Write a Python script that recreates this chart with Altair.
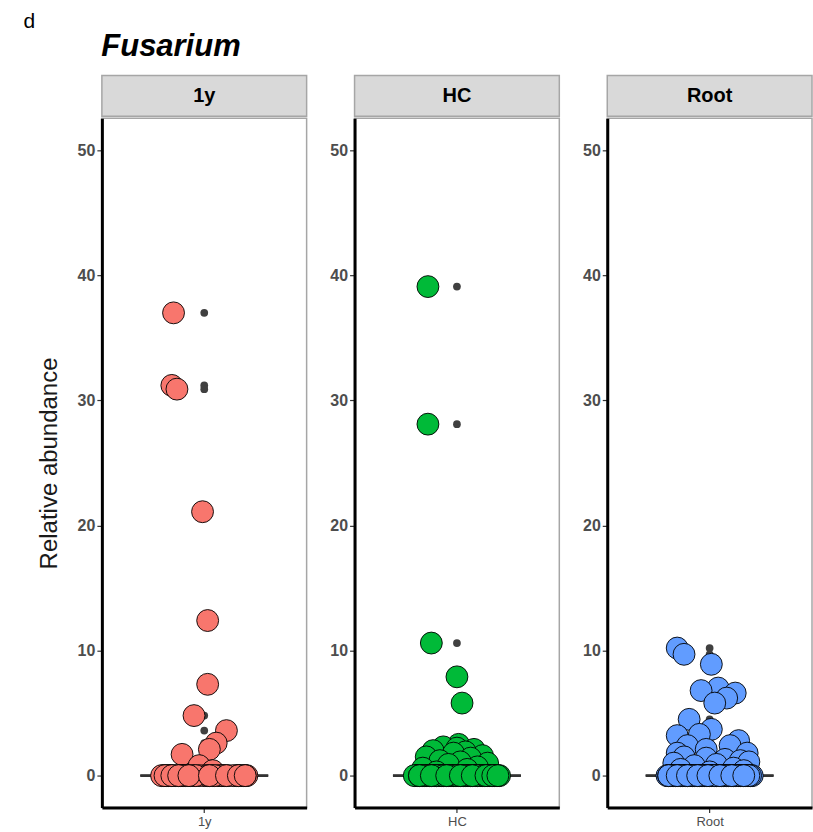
import altair as alt
import pandas as pd

groups = ["1y", "HC", "Root"]
fill_colors = ["#F8766D", "#00BA38", "#619CFF"]
y_ticks = [0, 10, 20, 30, 40, 50]

# ---- 1y ----
y1_values = [37.0, 31.2, 30.9, 21.1, 12.4, 7.3, 4.8, 3.6, 2.6, 2.1, 1.7, 0.8, 0.4]
y1_jitter = [-0.18, -0.19, -0.16, -0.01, 0.02, 0.02, -0.06, 0.13, 0.07, 0.03, -0.13, -0.03, 0.05]
y1_zero_jitter = [-0.24, -0.2, -0.15, -0.1, -0.06, 0.0, 0.05, 0.1, 0.14, 0.19, 0.23, 0.25,
                  -0.22, -0.17, -0.12, -0.08, -0.03, 0.02, 0.08, 0.12, 0.17, 0.21, -0.25,
                  -0.19, -0.13, -0.05, 0.03, 0.11, 0.2, 0.24, -0.21, -0.14, -0.11, 0.06,
                  -0.23, -0.19, -0.15, -0.09, 0.03, 0.13, 0.2, 0.24]

# ---- HC ----
hc_values = [39.1, 28.1, 10.6, 7.9, 5.8, 2.5, 2.3, 2.2, 2.1, 2.0, 1.9, 1.8, 1.6, 1.5, 1.4,
             1.2, 1.1, 1.0, 0.9, 0.7, 0.6, 0.5, 0.3]
hc_jitter = [-0.17, -0.17, -0.15, 0.0, 0.03, 0.01, -0.08, 0.0, 0.1, -0.14, 0.05, -0.02, 0.15,
             -0.18, 0.08, -0.1, 0.02, 0.18, -0.05, 0.12, -0.2, 0.06, -0.12]
hc_zero_jitter = [-0.24, -0.21, -0.18, -0.15, -0.12, -0.09, -0.06, -0.03, 0.0, 0.03, 0.06, 0.09,
                  0.12, 0.15, 0.18, 0.21, 0.24, -0.23, -0.2, -0.17, -0.14, -0.11, -0.08, -0.05,
                  -0.02, 0.01, 0.04, 0.07, 0.1, 0.13, 0.16, 0.19, 0.22, 0.25, -0.25, -0.22,
                  -0.19, -0.16, -0.13, -0.1, -0.07, -0.04, -0.01, 0.02, 0.05, 0.08, 0.11, 0.14,
                  0.17, 0.2, 0.23, -0.2, -0.12, -0.04, 0.04, 0.12, 0.2, -0.16, -0.08, 0.0,
                  0.08, 0.16, -0.22, -0.15, -0.06, 0.02, 0.09, 0.17, 0.21, 0.24]

# ---- Root ----
root_values = [10.2, 9.7, 8.9, 7.0, 6.8, 6.6, 6.2, 5.8, 4.5, 3.7, 3.3, 3.2, 2.8, 2.4, 2.4,
               2.1, 1.8, 1.8, 1.5, 1.4, 1.3, 1.2, 1.1, 1.0, 0.9, 0.8, 0.6, 0.5, 0.4, 0.3]
root_jitter = [-0.19, -0.15, 0.01, 0.05, -0.05, 0.15, 0.1, 0.03, -0.12, 0.01, -0.06, -0.19,
               0.17, 0.12, -0.13, -0.02, -0.19, 0.22, -0.15, -0.02, 0.09, 0.18, 0.23, -0.21,
               0.04, -0.09, 0.14, -0.17, 0.2, 0.0]
root_zero_jitter = [-0.25, -0.22, -0.19, -0.16, -0.13, -0.1, -0.07, -0.04, -0.01, 0.02, 0.05,
                    0.08, 0.11, 0.14, 0.17, 0.2, 0.23, -0.24, -0.21, -0.18, -0.15, -0.12, -0.09,
                    -0.06, -0.03, 0.0, 0.03, 0.06, 0.09, 0.12, 0.15, 0.18, 0.21, 0.24, -0.23,
                    -0.2, -0.17, -0.14, -0.11, -0.08, -0.05, -0.02, 0.01, 0.04, 0.07, 0.1, 0.13,
                    0.16, 0.19, 0.22, 0.25, -0.22, -0.14, -0.06, 0.02, 0.1, 0.18, -0.18, -0.1,
                    -0.02, 0.06, 0.14, 0.22, -0.24, -0.16, -0.08, 0.0, 0.08, 0.16, 0.24, -0.2,
                    -0.12, -0.04, 0.04, 0.12, 0.2, -0.21, -0.13, -0.05, 0.03, 0.11, 0.19, -0.17,
                    -0.09, 0.07, 0.15, 0.23, -0.24, -0.19, -0.13, -0.07, -0.01, 0.06, 0.13, 0.2]

group_data = {
    "1y": (y1_values, y1_jitter, y1_zero_jitter),
    "HC": (hc_values, hc_jitter, hc_zero_jitter),
    "Root": (root_values, root_jitter, root_zero_jitter),
}

FONT = "Liberation Sans"
W, H, SH = 205, 690, 41
BOX_HALF = 0.375


def make_df(g):
    vals, jit, zjit = group_data[g]
    rows = [{"group": g, "value": v, "jitter": j} for v, j in zip(vals, jit)]
    rows += [{"group": g, "value": 0.0, "jitter": j} for j in zjit]
    return pd.DataFrame(rows)


def panel(g, color, first):
    df = make_df(g)
    base = alt.Chart(df)
    xs = alt.Scale(domain=[0.4, 1.6], nice=False, zero=False)
    ys = alt.Scale(domain=[-2.55, 52.55], nice=False, zero=False)
    xax = alt.Axis(values=[1], labelExpr=f"'{g}'", title=None, grid=False,
                   domainColor="black", domainWidth=3, tickColor="#333333", tickSize=5,
                   tickWidth=1.2, labelColor="#4d4d4d", labelFont=FONT, labelFontSize=13,
                   labelPadding=3)
    yax = alt.Axis(values=y_ticks, title="Relative abundance" if first else None, grid=False,
                   domainColor="black", domainWidth=3, tickColor="#333333", tickSize=5,
                   tickWidth=1.2, labelColor="#4d4d4d", labelFont=FONT, labelFontSize=16,
                   labelFontWeight="bold", labelPadding=2, titleFont=FONT, titleFontSize=24,
                   titleFontWeight="normal", titleColor="#1a1a1a", titlePadding=16)

    stats = (base
             .transform_joinaggregate(q1="q1(value)", q3="q3(value)", med="median(value)")
             .transform_calculate(hi="datum.q3 + 1.5*(datum.q3 - datum.q1)",
                                  lo="datum.q1 - 1.5*(datum.q3 - datum.q1)"))
    box_stats = (stats
                 .transform_filter("datum.value <= datum.hi && datum.value >= datum.lo")
                 .transform_aggregate(wmin="min(value)", wmax="max(value)", q1="min(q1)",
                                      q3="min(q3)", med="min(med)")
                 .transform_calculate(xl=f"1 - {BOX_HALF}", xr=f"1 + {BOX_HALF}", xc="1"))

    whisk = box_stats.mark_rule(color="#333333", strokeWidth=1.5).encode(
        x=alt.X("xc:Q", scale=xs, axis=xax), y=alt.Y("wmin:Q", scale=ys, axis=yax), y2="wmax:Q")
    box = box_stats.mark_rect(fill="white", stroke="#333333", strokeWidth=1.5).encode(
        x=alt.X("xl:Q", scale=xs), x2="xr:Q", y=alt.Y("q1:Q", scale=ys), y2="q3:Q")
    med = box_stats.mark_rule(color="#333333", strokeWidth=3).encode(
        x=alt.X("xl:Q", scale=xs), x2="xr:Q", y=alt.Y("med:Q", scale=ys))
    outl = (stats
            .transform_filter("datum.value > datum.hi || datum.value < datum.lo")
            .transform_calculate(xc="1")
            .mark_circle(color="#404040", opacity=1, size=60)
            .encode(x=alt.X("xc:Q", scale=xs), y=alt.Y("value:Q", scale=ys)))
    pts = (base.transform_calculate(xj="1 + datum.jitter")
           .mark_circle(fill=color, stroke="black", strokeWidth=0.9, opacity=1,
                        fillOpacity=1, size=480)
           .encode(x=alt.X("xj:Q", scale=xs), y=alt.Y("value:Q", scale=ys)))

    main = alt.layer(whisk, box, med, outl, pts).properties(
        width=W, height=H,
        view=alt.ViewBackground(stroke="#a6a6a6", strokeWidth=1.5, fill="white"))

    strip = (alt.Chart(pd.DataFrame({"group": [g]}))
             .mark_text(font=FONT, fontSize=20, fontWeight="bold", color="black",
                        baseline="middle", align="center")
             .encode(text="group:N")
             .properties(width=W, height=SH,
                         view=alt.ViewBackground(fill="#d9d9d9", stroke="#a6a6a6",
                                                 strokeWidth=1.5)))
    return alt.vconcat(strip, main, spacing=0)


cols = [panel(g, c, i == 0) for i, (g, c) in enumerate(zip(groups, fill_colors))]
inner = alt.hconcat(*cols, spacing=21).properties(
    title=alt.TitleParams("Fusarium", anchor="start", font=FONT, fontSize=31,
                          fontWeight="bold", fontStyle="italic", color="black",
                          offset=12, dx=65))
chart = alt.vconcat(inner).properties(
    title=alt.TitleParams("d", anchor="start", font=FONT, fontSize=21,
                          fontWeight="normal", color="black", offset=-1, dx=-13),
    padding={"left": 23, "top": 10, "right": 0, "bottom": 0},
).configure_view(stroke=None).configure_concat(spacing=0)

chart.save("out.html", embed_options={"renderer": "svg", "actions": False})
